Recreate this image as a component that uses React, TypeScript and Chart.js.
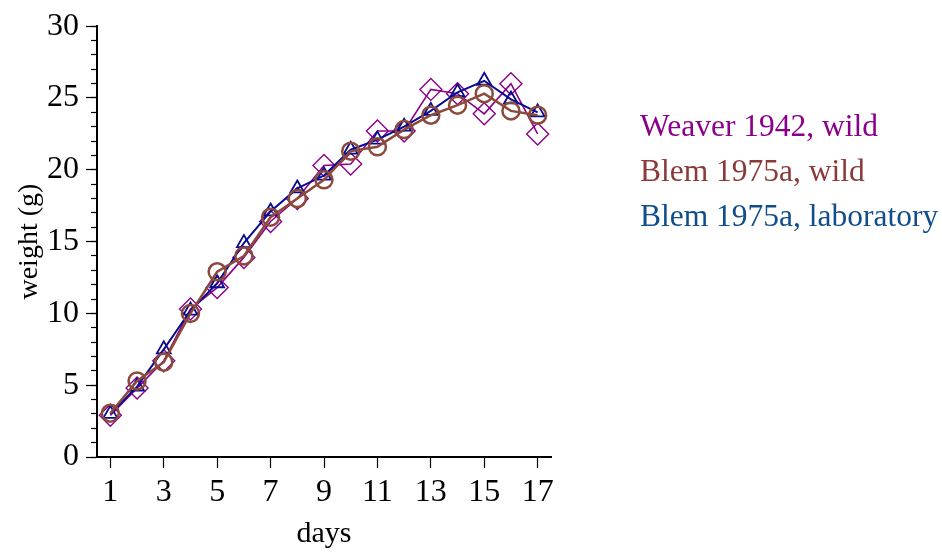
import React, { useEffect, useRef } from "react";
import { Chart, registerables } from "chart.js";

Chart.register(...registerables);

const days = [1, 2, 3, 4, 5, 6, 7, 8, 9, 10, 11, 12, 13, 14, 15, 16, 17];
const weaver1942Wild = [2.9, 4.8, 6.7, 10.3, 11.8, 13.9, 16.4, 18.0, 20.3, 20.4, 22.7, 22.7, 25.6, 25.3, 23.9, 26.0, 22.5];
const blem1975aWild = [3.05, 5.3, 6.6, 10.0, 12.9, 14.0, 16.7, 18.0, 19.3, 21.3, 21.6, 22.8, 23.8, 24.5, 25.3, 24.1, 23.8];
const blem1975aLab = [3.0, 4.9, 7.5, 10.2, 12.1, 14.9, 17.1, 18.7, 19.6, 21.4, 22.1, 23.0, 24.1, 25.4, 26.2, 24.9, 24.0];
const xTickValues = [1, 3, 5, 7, 9, 11, 13, 15, 17];
const seriesLabels = ["Weaver 1942, wild", "Blem 1975a, wild", "Blem 1975a, laboratory"];
const legendTextColors = ["#8B008B", "#8B3A3A", "#104E8B"];
const xTitle = "days";
const yTitle = "weight (g)";

const FONT = '"Liberation Serif", "Times New Roman", serif';

const legendPlugin = {
  id: "textLegend",
  afterDraw(chart: any) {
    const ctx = chart.ctx;
    ctx.save();
    ctx.font = `31.5px ${FONT}`;
    ctx.textBaseline = "middle";
    ctx.textAlign = "left";
    seriesLabels.forEach((t, i) => {
      ctx.fillStyle = legendTextColors[i];
      ctx.fillText(t, 640, 128 + 45 * i);
    });
    ctx.restore();
  },
};

export default function App() {
  const ref = useRef<HTMLCanvasElement>(null);
  useEffect(() => {
    if (!ref.current) return;
    const toPts = (arr: number[]) => days.map((d, i) => ({ x: d, y: arr[i] }));
    const chart = new Chart(ref.current, {
      type: "line",
      data: {
        datasets: [
          {
            label: seriesLabels[0],
            data: toPts(weaver1942Wild),
            borderColor: "#8B008B",
            borderWidth: 1.6,
            pointStyle: "rectRot",
            pointRadius: 11,
            pointBorderWidth: 1.4,
            pointBorderColor: "#8B008B",
            pointBackgroundColor: "rgba(0,0,0,0)",
            tension: 0,
            order: 3,
          },
          {
            label: seriesLabels[1],
            data: toPts(blem1975aWild),
            borderColor: "#8B4A3C",
            borderWidth: 2.5,
            pointStyle: "circle",
            pointRadius: 8.5,
            pointBorderWidth: 2.5,
            pointBorderColor: "#8B4A3C",
            pointBackgroundColor: "rgba(0,0,0,0)",
            tension: 0,
            order: 1,
          },
          {
            label: seriesLabels[2],
            data: toPts(blem1975aLab),
            borderColor: "#0A0A8E",
            borderWidth: 2,
            pointStyle: "triangle",
            pointRadius: 8,
            pointBorderWidth: 1.8,
            pointBorderColor: "#0A0A8E",
            pointBackgroundColor: "rgba(0,0,0,0)",
            tension: 0,
            order: 2,
          },
        ],
      },
      options: {
        animation: false,
        responsive: false,
        devicePixelRatio: 1,
        layout: { padding: { top: 25, right: 391, left: 0, bottom: 0 } },
        plugins: { legend: { display: false }, tooltip: { enabled: false } },
        scales: {
          x: {
            type: "linear",
            position: "bottom",
            min: 0.5,
            max: 17.5,
            afterBuildTicks: (scale: any) => {
              scale.ticks = xTickValues.map((v) => ({ value: v }));
            },
            afterFit: (scale: any) => {
              scale.height = 95;
            },
            grid: { drawOnChartArea: false, tickLength: 11, tickWidth: 1.2, tickColor: "#000" },
            border: { display: true, color: "#000", width: 2 },
            ticks: {
              autoSkip: false,
              maxRotation: 0,
              padding: 5,
              color: "#000",
              font: { family: FONT, size: 32 },
            },
            title: {
              display: true,
              text: xTitle,
              color: "#000",
              font: { family: FONT, size: 30 },
              padding: { top: 0, bottom: 0 },
            },
          },
          y: {
            type: "linear",
            position: "left",
            weight: 1,
            min: 0,
            max: 30,
            afterFit: (scale: any) => {
              scale.width = 97;
            },
            grid: { drawOnChartArea: false, tickLength: 11, tickWidth: 1.2, tickColor: "#000" },
            border: { display: true, color: "#000", width: 2 },
            ticks: {
              stepSize: 5,
              autoSkip: false,
              padding: 7,
              color: "#000",
              font: { family: FONT, size: 32 },
            },
            title: {
              display: true,
              text: yTitle,
              color: "#000",
              font: { family: FONT, size: 28 },
              padding: { top: 13, bottom: 0 },
            },
          },
          yMinor: {
            type: "linear",
            position: "left",
            weight: 0,
            min: 0,
            max: 30,
            afterFit: (scale: any) => {
              scale.width = 0;
            },
            grid: { drawOnChartArea: false, tickLength: 6, tickWidth: 1.2, tickColor: "#000" },
            border: { display: true, color: "#000", width: 2 },
            ticks: { stepSize: 1, autoSkip: false, display: false },
          },
        },
      },
      plugins: [legendPlugin],
    } as any);
    return () => chart.destroy();
  }, []);
  return (
    <div style={{ position: "fixed", left: 0, top: 0, width: 942, height: 552, background: "#fff" }}>
      <canvas ref={ref} width={942} height={552} style={{ width: 942, height: 552 }} />
    </div>
  );
}
